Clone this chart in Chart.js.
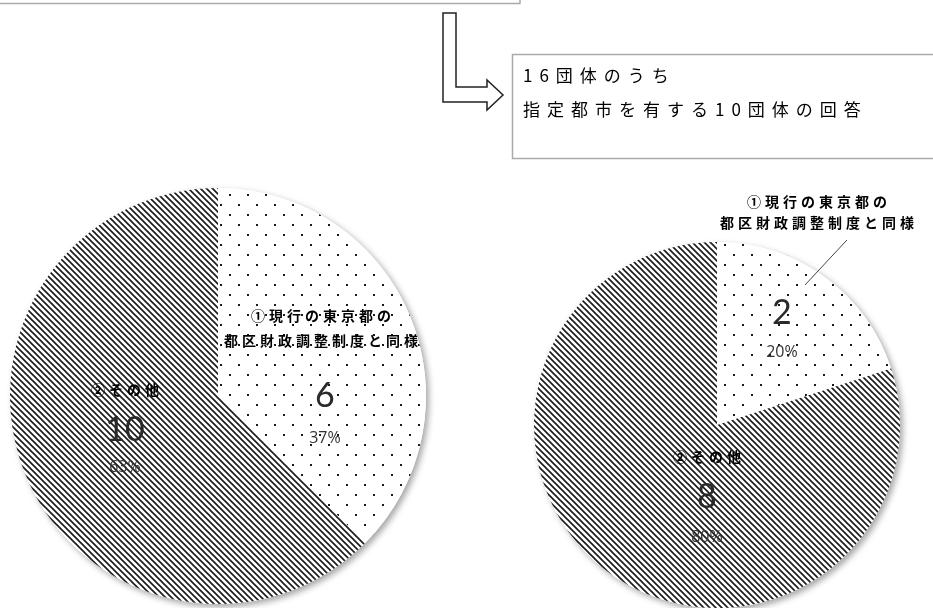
<!DOCTYPE html>
<html>
<head>
<meta charset="utf-8">
<script src="https://cdn.jsdelivr.net/npm/chart.js@4.4.1/dist/chart.umd.min.js"></script>
<style>
  body { margin: 0; background: #fff; overflow: hidden; }
  canvas { position: absolute; left: 0; top: 0; }
</style>
</head>
<body>
<canvas id="leftPie" width="933" height="608"></canvas>
<canvas id="rightPie" width="933" height="608"></canvas>
<script>
// answers: all 16 groups (left) / the 10 groups with designated cities (right)
const answerLabels = [['①現行の東京都の', '都区財政調整制度と同様'], ['②その他']];
const allCounts = [6, 10];
const allPercents = ['37%', '63%'];
const cityCounts = [2, 8];
const cityPercents = ['20%', '80%'];
const noteLines = ['16団体のうち', '指定都市を有する10団体の回答'];

const JP = '"Noto Sans CJK JP", "Noto Sans", sans-serif';

function dotPattern() {
  const c = document.createElement('canvas');
  c.width = 18; c.height = 20;
  const g = c.getContext('2d');
  g.fillStyle = '#fff';
  g.fillRect(0, 0, 18, 20);
  g.fillStyle = '#1a1a1a';
  g.fillRect(4, 4, 2, 2);
  g.fillRect(13, 14, 2, 2);
  return g.createPattern(c, 'repeat');
}

function hatchPattern() {
  const s = 6;
  const c = document.createElement('canvas');
  c.width = s; c.height = s;
  const g = c.getContext('2d');
  g.fillStyle = '#fff';
  g.fillRect(0, 0, s, s);
  g.strokeStyle = '#1a1a1a';
  g.lineWidth = 1.6;
  g.beginPath();
  g.moveTo(-1, -1); g.lineTo(s + 1, s + 1);
  g.moveTo(-1, s - 1); g.lineTo(1, s + 1);
  g.moveTo(s - 1, -1); g.lineTo(s + 1, 1);
  g.stroke();
  return g.createPattern(c, 'repeat');
}

// soft shadow under the whole pie
const pieShadow = {
  id: 'pieShadow',
  beforeDatasetsDraw(chart) {
    const arc = chart.getDatasetMeta(0).data[0];
    if (!arc) return;
    const ctx = chart.ctx;
    ctx.save();
    ctx.shadowColor = 'rgba(0,0,0,0.35)';
    ctx.shadowBlur = 6;
    ctx.shadowOffsetX = 3;
    ctx.shadowOffsetY = 3;
    ctx.fillStyle = '#fff';
    ctx.beginPath();
    ctx.arc(arc.x, arc.y, arc.outerRadius, 0, Math.PI * 2);
    ctx.fill();
    ctx.restore();
  }
};

// name / count / percent text for each slice
const sliceText = {
  id: 'sliceText',
  afterDatasetsDraw(chart, args, opts) {
    const ctx = chart.ctx;
    const ds = chart.data.datasets[0];
    chart.getDatasetMeta(0).data.forEach((arc, i) => {
      const p = opts.place[i];
      const x = arc.x + p.nx * arc.outerRadius;
      const y = arc.y + p.ny * arc.outerRadius;
      ctx.save();
      ctx.textAlign = 'center';
      ctx.textBaseline = 'middle';
      ctx.fillStyle = '#000';
      ctx.font = 'bold 14px ' + JP;
      ctx.letterSpacing = '4px';
      chart.data.labels[i].forEach((line, k) => {
        ctx.fillText(line, x + p.nameDx + 2, y + p.nameDy + k * p.lineGap);
      });
      ctx.letterSpacing = '0px';
      ctx.fillStyle = '#2a2a2a';
      ctx.font = '34px Lato, "Open Sans", sans-serif';
      ctx.fillText(String(ds.data[i]), x, y);
      ctx.fillStyle = '#333';
      ctx.font = '16px "Open Sans", sans-serif';
      ctx.fillText(opts.percents[i], x, y + p.pctDy);
      if (p.leader) {
        ctx.strokeStyle = '#444';
        ctx.lineWidth = 1;
        ctx.beginPath();
        ctx.moveTo(x + p.leader[0], y + p.leader[1]);
        ctx.lineTo(x + p.leader[2], y + p.leader[3]);
        ctx.stroke();
      }
      ctx.restore();
    });
  }
};

// boxes and hollow arrow around the note
const noteBox = {
  id: 'noteBox',
  afterDraw(chart) {
    const ctx = chart.ctx;
    ctx.save();
    ctx.strokeStyle = '#aaa';
    ctx.lineWidth = 1.5;
    ctx.beginPath();
    ctx.moveTo(0, 3.5); ctx.lineTo(520, 3.5); ctx.lineTo(520, 0);
    ctx.stroke();
    ctx.strokeRect(512.5, 54.5, 440, 104);

    ctx.strokeStyle = '#222';
    ctx.lineWidth = 1.5;
    ctx.beginPath();
    ctx.moveTo(443, 13); ctx.lineTo(456, 13); ctx.lineTo(456, 87);
    ctx.lineTo(487, 87); ctx.lineTo(487, 80); ctx.lineTo(503, 95);
    ctx.lineTo(487, 110); ctx.lineTo(487, 102); ctx.lineTo(443, 102);
    ctx.closePath();
    ctx.stroke();

    ctx.fillStyle = '#000';
    ctx.font = '17px ' + JP;
    ctx.letterSpacing = '7px';
    ctx.textBaseline = 'middle';
    ctx.fillText(noteLines[0], 523, 76);
    ctx.fillText(noteLines[1], 523, 110);
    ctx.restore();
  }
};

function makePie(id, counts, percents, padding, place, extra) {
  return new Chart(document.getElementById(id), {
    type: 'pie',
    data: {
      labels: answerLabels,
      datasets: [{
        data: counts,
        backgroundColor: [dotPattern(), hatchPattern()],
        borderWidth: 0,
        hoverOffset: 0
      }]
    },
    options: {
      responsive: false,
      devicePixelRatio: 1,
      animation: false,
      events: [],
      layout: { padding: padding },
      plugins: {
        legend: { display: false },
        tooltip: { enabled: false },
        sliceText: { percents: percents, place: place }
      }
    },
    plugins: [pieShadow, sliceText].concat(extra)
  });
}

makePie('leftPie', allCounts, allPercents,
  { left: 10, top: 188, right: 507, bottom: 4 },
  [
    { nx: 0.514, ny: 0, nameDx: -4, nameDy: -80, lineGap: 25, pctDy: 42 },
    { nx: -0.447, ny: 0.163, nameDx: 0, nameDy: -40, lineGap: 25, pctDy: 38 }
  ],
  [noteBox]);

makePie('rightPie', cityCounts, cityPercents,
  { left: 534, top: 242, right: 33, bottom: 0 },
  [
    { nx: 0.355, ny: -0.612, nameDx: 35, nameDy: -111, lineGap: 21, pctDy: 39,
      leader: [65, -73, 23, -28] },
    { nx: -0.055, ny: 0.393, nameDx: 0, nameDy: -40, lineGap: 21, pctDy: 41 }
  ],
  []);
</script>
</body>
</html>
